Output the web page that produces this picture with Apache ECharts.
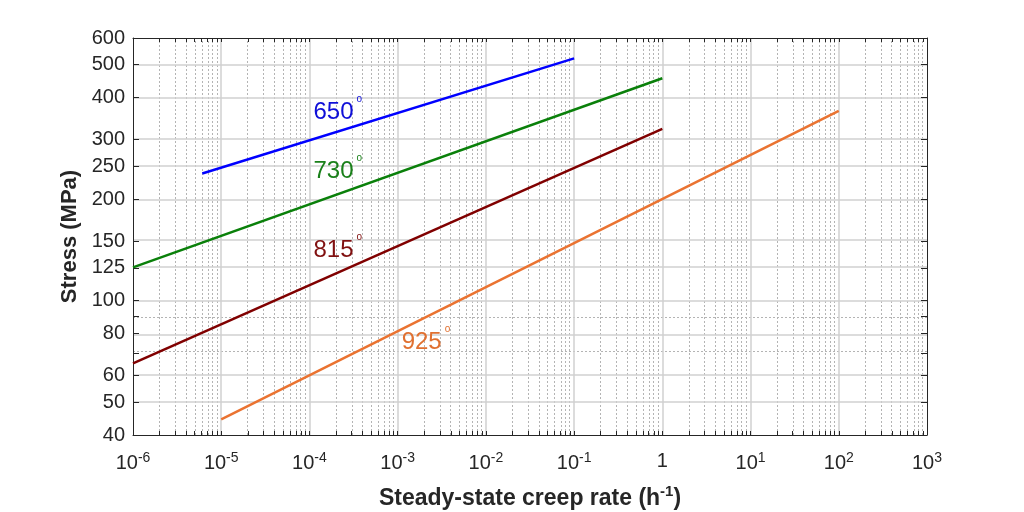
<!DOCTYPE html>
<html>
<head>
<meta charset="utf-8">
<script src="https://cdn.jsdelivr.net/npm/echarts@6/dist/echarts.min.js"></script>
<style>
  html, body { margin: 0; padding: 0; background: #fff; }
  #chart { width: 1024px; height: 512px; }
</style>
</head>
<body>
<div id="chart"></div>
<script>
// creep rate (h^-1) vs stress (MPa), log-log
var xExponents = [-6, -5, -4, -3, -2, -1, 0, 1, 2, 3];
var yTickValues = [40, 50, 60, 80, 100, 125, 150, 200, 250, 300, 400, 500, 600];
var yMinorValues = [70, 90];

var temps = ['650', '730', '815', '925'];
var line650 = [[6.1e-6, 238], [0.1, 522]];
var line730 = [[1e-6, 125.5], [1, 456]];
var line815 = [[1e-6, 65.2], [1, 323]];
var line925 = [[1e-5, 44.5], [100, 365]];
// where each temperature label sits (data space)
var labelAt = [[1e-4, 362], [1e-4, 242], [1e-4, 141], [1e-3, 75.4]];

(function () {
    var L = Math.log10;
    var font = 'Liberation Sans';
    var axisColor = '#262626';
    var colors = ['#0000ff', '#0a800a', '#800000', '#ea7331'];
    var textColors = ['#1010d8', '#1a801a', '#801010', '#e07030'];
    var lines = [line650, line730, line815, line925];

    // minor positions 2..9 within each decade
    var xMinor = [];
    for (var i = 0; i < xExponents.length - 1; i++) {
        for (var k = 2; k <= 9; k++) {
            xMinor.push(L(k) + xExponents[i]);
        }
    }
    var xAllTicks = xExponents.concat(xMinor);
    var yMajor = yTickValues.map(L);
    var yAllTicks = yMajor.concat(yMinorValues.map(L));

    var majorGrid = { color: '#d0d0d0', width: 1.5, type: 'solid' };
    var minorGrid = { color: '#b4b4b4', width: 1, type: [2, 2] };

    var gridLines = [];
    xMinor.forEach(function (v) { gridLines.push({ xAxis: v, lineStyle: minorGrid }); });
    yMinorValues.forEach(function (v) { gridLines.push({ yAxis: L(v), lineStyle: minorGrid }); });
    xExponents.slice(1, -1).forEach(function (v) { gridLines.push({ xAxis: v, lineStyle: majorGrid }); });
    yMajor.slice(1, -1).forEach(function (v) { gridLines.push({ yAxis: v, lineStyle: majorGrid }); });

    var xBase = {
        type: 'value', min: -6, max: 3,
        axisLine: { show: true, onZero: false, lineStyle: { color: axisColor, width: 1 } },
        axisTick: { show: true, inside: true, length: 4, customValues: xAllTicks, lineStyle: { color: axisColor } },
        splitLine: { show: false }
    };
    var yBase = {
        type: 'value', min: L(40), max: L(600),
        axisLine: { show: true, onZero: false, lineStyle: { color: axisColor, width: 1 } },
        axisTick: { show: true, inside: true, length: 6, customValues: yAllTicks, lineStyle: { color: axisColor } },
        splitLine: { show: false }
    };

    var series = [{
        type: 'line', data: [], z: 1, silent: true,
        markLine: { silent: true, z: 0, symbol: 'none', animation: false, label: { show: false }, data: gridLines }
    }];
    lines.forEach(function (pts, i) {
        series.push({
            name: temps[i], type: 'line', z: 3, showSymbol: false,
            lineStyle: { color: colors[i], width: 2.5 },
            data: pts.map(function (p) { return [L(p[0]), L(p[1])]; })
        });
        series.push({
            type: 'scatter', z: 4, symbolSize: 0, silent: true,
            itemStyle: { opacity: 1 },
            data: [[L(labelAt[i][0]), L(labelAt[i][1])]],
            label: {
                show: true, position: 'right', distance: 4, opacity: 1,
                formatter: '{n|' + temps[i] + '}{d|o}',
                rich: {
                    n: { fontFamily: font, fontSize: 24, color: textColors[i] },
                    d: { fontFamily: font, fontSize: 10, color: textColors[i], padding: [0, 0, 26, 3] }
                }
            }
        });
    });

    var option = {
        animation: false,
        grid: { left: 133, right: 97, top: 38, bottom: 77, containLabel: false, outerBoundsMode: 'none' },
        xAxis: [
            Object.assign({}, xBase, {
                position: 'bottom',
                name: '{a|Steady-state creep rate (h}{s|-1}{a|)}',
                nameLocation: 'middle', nameGap: 49,
                nameTextStyle: {
                    rich: {
                        a: { fontFamily: font, fontSize: 23, fontWeight: 'bold', color: axisColor },
                        s: { fontFamily: font, fontSize: 15, fontWeight: 'bold', color: axisColor, padding: [0, 0, 14, 0] }
                    }
                },
                axisLabel: {
                    customValues: xExponents, margin: 16, color: axisColor,
                    fontFamily: font, fontSize: 20,
                    formatter: function (v) {
                        var e = Math.round(v);
                        return e === 0 ? '1' : '10{s|' + e + '}';
                    },
                    rich: { s: { fontFamily: font, fontSize: 14, color: axisColor, padding: [0, 0, 10, 0] } }
                }
            }),
            Object.assign({}, xBase, { position: 'top', axisLabel: { show: false } })
        ],
        yAxis: [
            Object.assign({}, yBase, {
                position: 'left',
                name: 'Stress (MPa)', nameLocation: 'middle', nameGap: 45,
                nameTextStyle: { fontFamily: font, fontSize: 22, fontWeight: 'bold', color: axisColor },
                axisLabel: {
                    customValues: yMajor, margin: 8, color: axisColor,
                    fontFamily: font, fontSize: 20,
                    formatter: function (v) { return String(Math.round(Math.pow(10, v))); }
                }
            }),
            Object.assign({}, yBase, { position: 'right', axisLabel: { show: false } })
        ],
        series: series
    };

    var myChart = echarts.init(document.getElementById('chart'));
    myChart.setOption(option);
    window.addEventListener('resize', function () { myChart.resize(); });
})();
</script>
</body>
</html>
